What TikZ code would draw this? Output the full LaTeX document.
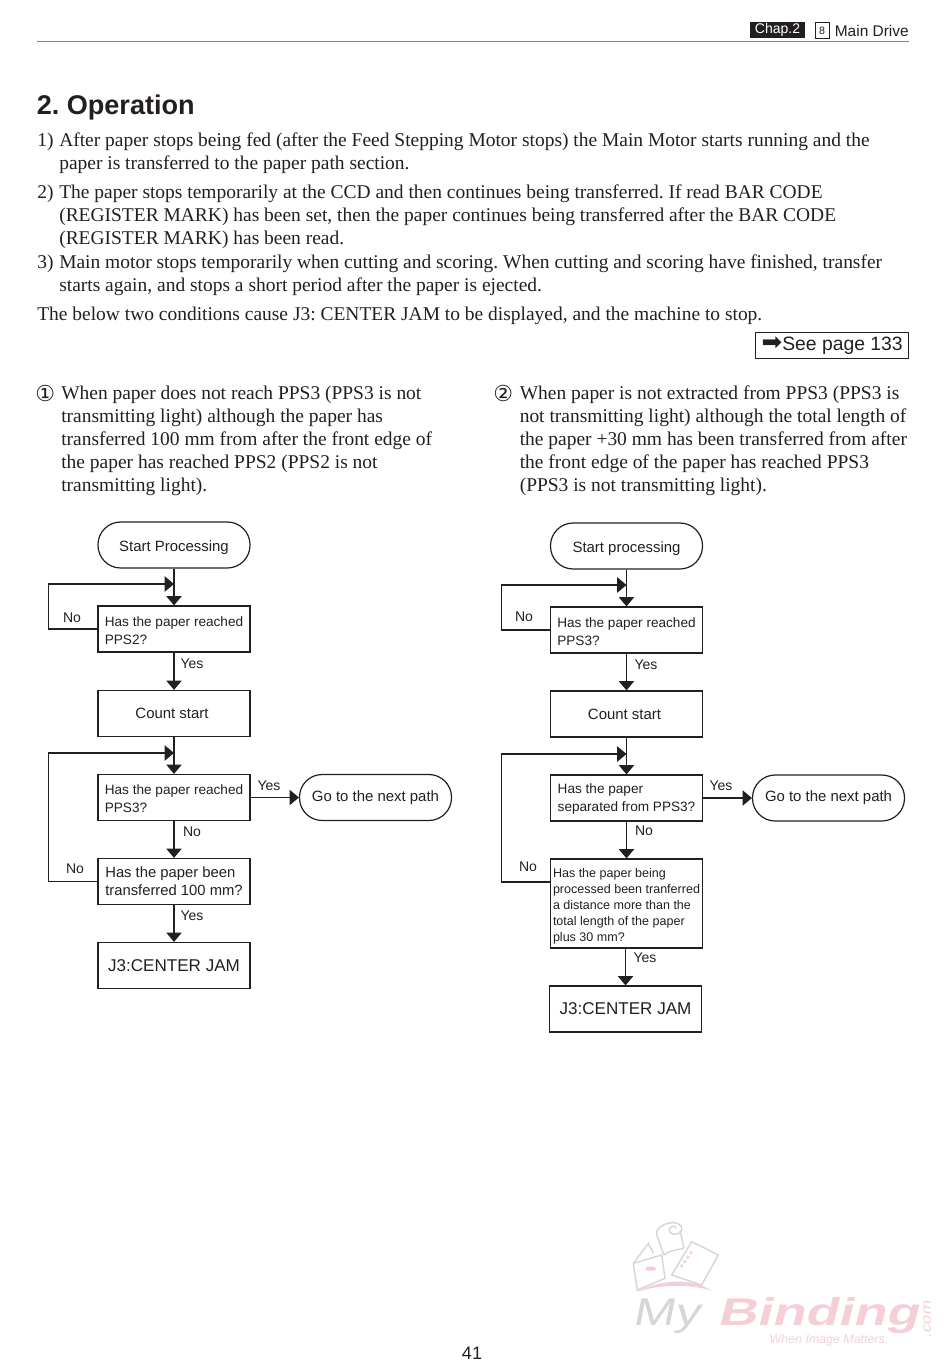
\documentclass[tikz,border=0pt]{standalone}
\usepackage{fontspec}
\usepackage{amsmath}
\usetikzlibrary{arrows.meta}
\setmainfont{Liberation Serif}
\setsansfont{Liberation Sans}
\newfontfamily\symfont{DejaVu Sans}
\newfontfamily\logofont[FakeSlant=0.25,FakeStretch=1.4]{Liberation Sans Bold}
\newfontfamily\logolight[FakeSlant=0.2,FakeStretch=1.3]{Liberation Sans}
\definecolor{ink}{HTML}{231F20}
\definecolor{logogrey}{HTML}{D6D6D6}
\definecolor{logopink}{HTML}{F4D0D6}
\newcommand{\topgap}[1]{\rule{0pt}{#1pt}}
\frenchspacing

\begin{document}
\begin{tikzpicture}[
	x=0.75pt, y=-0.75pt,
	color=ink,
	body/.style={font=\fontsize{14.6}{17.25}\selectfont, inner sep=0pt, anchor=north west, align=left},
	num/.style={font=\fontsize{14.6}{17.25}\selectfont, inner sep=0pt, anchor=north west},
	b/.style={draw, line width=0.9pt, minimum width=114pt, minimum height=34.5pt, inner sep=0pt, font=\sffamily\fontsize{11.2}{13.5}\selectfont},
	q/.style={b, align=left, font=\sffamily\fontsize{10.2}{13.5}\selectfont},
	t/.style={b, rounded corners=17pt},
	j/.style={b, font=\sffamily\fontsize{12.8}{15}\selectfont},
	l/.style={inner sep=0pt, font=\sffamily\fontsize{10.5}{13}\selectfont},
	f/.style={line width=0.9pt, -{Triangle[length=7pt,width=11.5pt]}}
]
	\useasboundingbox (0,0) rectangle (950,1366);

	% header
	\node[fill=ink, text=white, inner sep=0pt, minimum width=41pt, minimum height=12pt, font=\sffamily\fontsize{10.5}{12}\selectfont] (chap) at (777.5,30) {Chap.2};
	\node[draw, line width=0.5pt, inner sep=0pt, minimum width=10.5pt, minimum height=11.5pt, font=\sffamily\fontsize{8}{10}\selectfont] (sec) at (822,30.5) {8};
	\node[anchor=east, inner sep=0pt, font=\sffamily\fontsize{11.6}{14}\selectfont] (drive) at (909,31) {Main Drive};
	\coordinate (r1) at (37,41.5);
	\coordinate (r2) at (909,41.5);
	\draw[line width=0.6pt, gray] (r1) -- (r2);

	\node[anchor=west, inner sep=0pt, font=\sffamily\bfseries\fontsize{20.3}{24}\selectfont] (title) at (36.5,108) {2. Operation};

	% text
	\node[num] (n1) at (37,133) {1)};
	\node[body] (p1) at (59,133) {After paper stops being fed (after the Feed Stepping Motor stops) the Main Motor starts running and the\\paper is transferred to the paper path section.};
	\node[num] (n2) at (37,185) {2)};
	\node[body] (p2) at (59,185) {The paper stops temporarily at the CCD and then continues being transferred. If read BAR CODE\\(REGISTER MARK) has been set, then the paper continues being transferred after the BAR CODE\\(REGISTER MARK) has been read.};
	\node[num] (n3) at (37,255) {3)};
	\node[body] (p3) at (59,255) {Main motor stops temporarily when cutting and scoring. When cutting and scoring have finished, transfer\\starts again, and stops a short period after the paper is ejected.};
	\node[body] (p4) at (37,307) {The below two conditions cause J3: CENTER JAM to be displayed, and the machine to stop.};
	\node[draw, line width=0.9pt, minimum width=114.5pt, minimum height=20pt, inner sep=0pt, font=\sffamily\fontsize{14.5}{16}\selectfont] (see) at (832.2,345.5) {{\symfont\fontsize{18.5}{16}\selectfont ➡}See page 133};

	\node[num, font=\symfont\fontsize{16.5}{17}\selectfont] (c1) at (35,385) {①};
	\node[body] (p5) at (61,386) {When paper does not reach PPS3 (PPS3 is not\\transmitting light) although the paper has\\transferred 100 mm from after the front edge of\\the paper has reached PPS2 (PPS2 is not\\transmitting light).};
	\node[num, font=\symfont\fontsize{16.5}{17}\selectfont] (c2) at (493,385) {②};
	\node[body] (p6) at (519.5,386) {When paper is not extracted from PPS3 (PPS3 is\\not transmitting light) although the total length of\\the paper +30 mm has been transferred from after\\the front edge of the paper has reached PPS3\\(PPS3 is not transmitting light).};

	% left chart
	\node[t] (A) at (174,545) {\topgap{12}Start Processing};
	\node[q] (B) at (174,629) {\topgap{10.5}Has the paper reached\\PPS2?};
	\node[b] (C) at (174,713.5) {\kern-3pt Count start};
	\node[q] (D) at (174,797.5) {\topgap{9.5}Has the paper reached\\PPS3?};
	\node[q, font=\sffamily\fontsize{11.1}{13.5}\selectfont] (E) at (174,881.5) {Has the paper been\\transferred 100 mm?};
	\node[j] (F) at (174,965.5) {J3:CENTER JAM};
	\node[t] (G) at (375.5,797.5) {Go to the next path};
	\coordinate (m1) at (174,584);
	\coordinate (m2) at (174,753);
	\coordinate (w1) at (48.5,629);
	\coordinate (w2) at (48.5,881.5);

	\draw[f] (A) -- (B);
	\draw[f] (B) -- (C);
	\draw[f] (C) -- (D);
	\draw[f] (D) -- (E);
	\draw[f] (E) -- (F);
	\draw[f] (D) -- (G);
	\draw[f] (B.west) -- (w1) |- (m1);
	\draw[f] (E.west) -- (w2) |- (m2);

	\node[l] (ln1) at (72,618) {No};
	\node[l] (ly1) at (192,664) {Yes};
	\node[l] (ly2) at (269,786) {Yes};
	\node[l] (ln2) at (192,832) {No};
	\node[l] (ln3) at (75,869) {No};
	\node[l] (ly3) at (192,916) {Yes};

	% right chart
	\node[t] (A2) at (626.5,546) {\topgap{12}Start processing};
	\node[q] (B2) at (626.5,630) {\topgap{10.5}Has the paper reached\\PPS3?};
	\node[b] (C2) at (626.5,714) {\kern-3pt Count start};
	\node[q] (D2) at (626.5,798) {\topgap{9.5}Has the paper\\separated from PPS3?};
	\node[q, minimum height=66.75pt, font=\sffamily\fontsize{9.4}{12}\selectfont] (E2) at (626.5,903.5) {\topgap{10.5}Has the paper being\\processed been tranferred\\a distance more than the\\total length of the paper\\plus 30 mm?};
	\node[j] (F2) at (625.5,1009) {J3:CENTER JAM};
	\node[t] (G2) at (828.5,798) {Go to the next path};
	\coordinate (m3) at (626.5,585);
	\coordinate (m4) at (626.5,754);
	\coordinate (w3) at (501.5,630);
	\coordinate (w4) at (501.5,882);

	\draw[f] (A2) -- (B2);
	\draw[f] (B2) -- (C2);
	\draw[f] (C2) -- (D2);
	\draw[f] (D2) -- (E2);
	\draw[f] (E2.south -| F2) -- (F2);
	\draw[f] (D2) -- (G2);
	\draw[f] (B2.west) -- (w3) |- (m3);
	\draw[f] (w4 -| E2.west) -- (w4) |- (m4);

	\node[l] (ln4) at (524,617) {No};
	\node[l] (ly4) at (646,665) {Yes};
	\node[l] (ly5) at (721,786) {Yes};
	\node[l] (ln5) at (644,831) {No};
	\node[l] (ln6) at (528,867) {No};
	\node[l] (ly6) at (645,958) {Yes};

	% logo
	\begin{scope}[shift={(620,1210)}, x=0.25pt, y=-0.25pt, line width=1.1pt]
		\draw[logogrey] (40,160) -- (125,135) -- (135,205) -- (52,240) -- cycle;
		\draw[logogrey] (40,160) -- (85,100) -- (100,130);
		\draw[logogrey] (110,75) -- (132,135) (180,62) -- (192,115) (132,135) .. controls (150,120) and (170,120) .. (192,115);
		\draw[logogrey] (110,75) .. controls (100,40) and (190,20) .. (185,60) .. controls (180,80) and (140,75) .. (150,55) .. controls (155,45) and (170,48) .. (168,55);
		\draw[logogrey] (215,95) -- (295,135) -- (245,225) -- (155,195) -- cycle;
		\draw[logopink, line width=2pt, dotted] (215,125) -- (180,175);
		\fill[logopink] (50,245) .. controls (130,205) and (220,205) .. (275,242) .. controls (210,222) and (130,222) .. (50,245) -- cycle;
		\fill[logopink, rounded corners=2pt] (76,170) rectangle (108,182);
	\end{scope}
	\node[anchor=west, inner sep=0pt, text=logogrey, font=\logolight\fontsize{29}{30}\selectfont] (my) at (632,1316) {My};
	\node[anchor=west, inner sep=0pt, text=logopink, font=\logofont\fontsize{29}{30}\selectfont] (bind) at (717,1316) {Binding};
	\node[rotate=90, inner sep=0pt, text=logopink, font=\logolight\fontsize{10}{12}\selectfont] (com) at (927,1320) {.com};
	\node[inner sep=0pt, text=logopink, font=\sffamily\itshape\fontsize{9.3}{11}\selectfont] (slogan) at (829,1340) {When Image Matters.};

	\node[inner sep=0pt, font=\sffamily\fontsize{13.5}{16}\selectfont] (page) at (472,1353) {41};
\end{tikzpicture}
\end{document}
